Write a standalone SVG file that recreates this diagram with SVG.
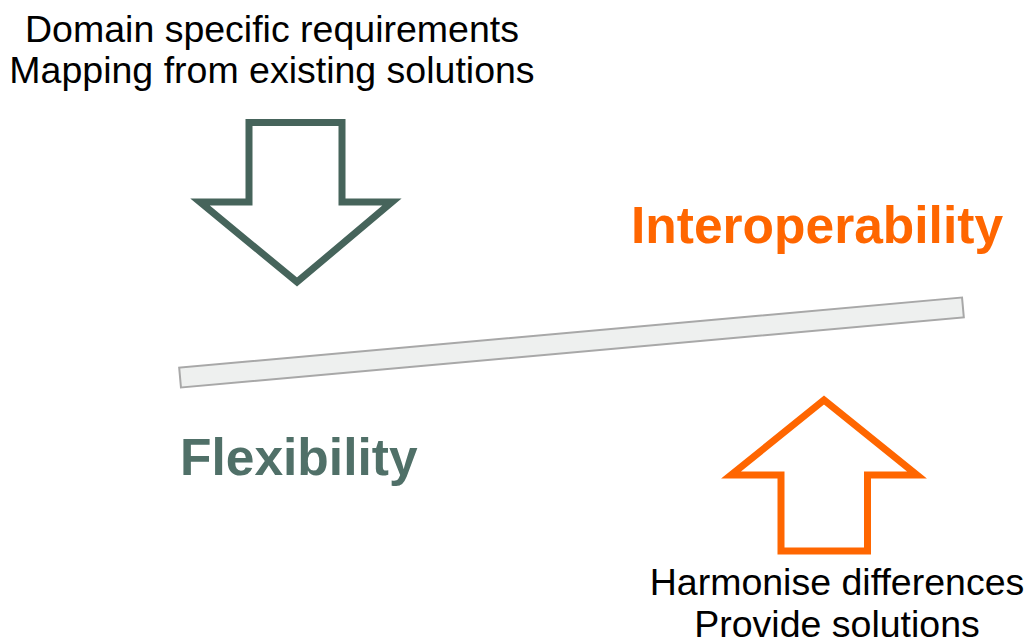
<svg xmlns="http://www.w3.org/2000/svg" width="1030" height="643" viewBox="0 0 1030 643">
<style>
.lbl{font-family:"Liberation Sans",Arial,sans-serif;font-size:37.5px;fill:#000;text-anchor:middle}
.big{font-family:"Liberation Sans",Arial,sans-serif;font-size:51.5px;font-weight:bold}
.arrow{fill:#fff;stroke-width:7;stroke-linejoin:miter;stroke-miterlimit:10}
</style>
<rect width="1030" height="643" fill="#fff"/>
<g id="top-text">
<text class="lbl" x="272" y="42">Domain specific requirements</text>
<text class="lbl" x="272" y="83">Mapping from existing solutions</text>
</g>
<g id="down-arrow">
<polygon class="arrow" stroke="#46645b" points="249,122.5 342,122.5 342,202 392,202 297,282 200,202 249,202"/>
</g>
<g id="interoperability">
<text class="big" x="631" y="243" fill="#ff6600">Interoperability</text>
</g>
<g id="beam">
<rect x="178.5" y="332.5" width="786" height="20" fill="#eef0ef" stroke="#a8a8a8" stroke-width="2" transform="rotate(-5.12 571.5 342.5)"/>
</g>
<g id="flexibility">
<text class="big" x="180" y="475" fill="#507068">Flexibility</text>
</g>
<g id="up-arrow">
<polygon class="arrow" stroke="#ff6600" points="824,400 917,475 867.5,475 867.5,551 781,551 781,475 731,475"/>
</g>
<g id="bottom-text">
<text class="lbl" x="837" y="595">Harmonise differences</text>
<text class="lbl" x="837" y="637">Provide solutions</text>
</g>
<g id="connectors"/>
</svg>
